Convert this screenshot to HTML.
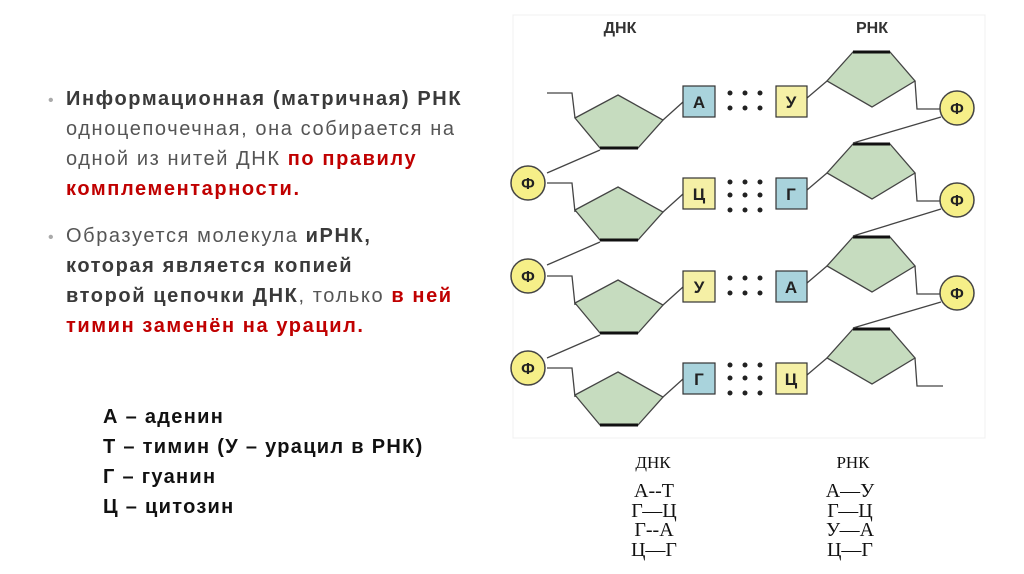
<!DOCTYPE html>
<html><head><meta charset="utf-8"><style>
body{margin:0;width:1024px;height:574px;background:#fff;overflow:hidden;position:relative;font-family:"Liberation Sans",sans-serif}
.l{position:absolute;white-space:nowrap;font-size:20px;letter-spacing:1.6px;color:#555;left:66px}
.b{font-weight:bold;color:#3a3a3a}
.r{font-weight:bold;color:#c00000}
.dot{position:absolute;left:48px;color:#aaa;font-size:16px}
.g{position:absolute;left:103px;font-size:20px;letter-spacing:1.3px;font-weight:bold;color:#111;white-space:nowrap}
</style></head><body>
<div class="dot" style="top:92px">•</div>
<div class="l b" style="top:88px">Информационная (матричная) РНК</div>
<div class="l" style="top:118px">одноцепочечная, она собирается на</div>
<div class="l" style="top:148px">одной из нитей ДНК <span class="r">по правилу</span></div>
<div class="l r" style="top:178px">комплементарности.</div>
<div class="dot" style="top:229px">•</div>
<div class="l" style="top:225px">Образуется молекула <span class="b">иРНК,</span></div>
<div class="l b" style="top:255px">которая является копией</div>
<div class="l" style="top:285px"><span class="b">второй цепочки ДНК</span>, только <span class="r">в ней</span></div>
<div class="l r" style="top:315px">тимин заменён на урацил.</div>
<div class="g" style="top:406px">А – аденин</div>
<div class="g" style="top:436px">Т – тимин (У – урацил в РНК)</div>
<div class="g" style="top:466px">Г – гуанин</div>
<div class="g" style="top:496px">Ц – цитозин</div>
<svg style="position:absolute;left:0;top:0" width="1024" height="574" font-family="Liberation Sans" font-weight="bold">
<rect x="513" y="15" width="472" height="423" fill="none" stroke="#f0f0f0"/>
<text x="620" y="33" font-size="16" text-anchor="middle" fill="#333">ДНК</text>
<text x="872" y="33" font-size="16" text-anchor="middle" fill="#333">РНК</text>
<defs>
<g id="dp"><polygon points="618,95 663,120 638,148 600,148 575,118" fill="#c6dcbf" stroke="#444" stroke-width="1.3"/><line x1="600" y1="148" x2="638" y2="148" stroke="#111" stroke-width="3"/><line x1="663" y1="120" x2="683" y2="102" stroke="#444" stroke-width="1.3"/></g>
<g id="rp"><polygon points="853,52 890,52 915,81 872,107 827,81" fill="#c6dcbf" stroke="#444" stroke-width="1.3"/><line x1="853" y1="52" x2="890" y2="52" stroke="#111" stroke-width="3"/><line x1="807" y1="98" x2="827" y2="81" stroke="#444" stroke-width="1.3"/><polyline points="915,81 917,109 940,109" fill="none" stroke="#444" stroke-width="1.3"/></g>
<g id="fi"><circle r="17" fill="#f6ef88" stroke="#444" stroke-width="1.5"/><text y="6" font-size="16" text-anchor="middle" fill="#222">Ф</text></g>
</defs>
<polyline points="547,93 572,93 575,118" fill="none" stroke="#444" stroke-width="1.3"/>
<use href="#dp"/><use href="#dp" y="92"/><use href="#dp" y="185"/><use href="#dp" y="277"/>
<use href="#rp"/><use href="#rp" y="92"/><use href="#rp" y="185"/>
<g transform="translate(0,277)"><polygon points="853,52 890,52 915,81 872,107 827,81" fill="#c6dcbf" stroke="#444" stroke-width="1.3"/><line x1="853" y1="52" x2="890" y2="52" stroke="#111" stroke-width="3"/><line x1="807" y1="98" x2="827" y2="81" stroke="#444" stroke-width="1.3"/><polyline points="915,81 917,109 943,109" fill="none" stroke="#444" stroke-width="1.3"/></g>
<g stroke="#444" stroke-width="1.3" fill="none">
<line x1="547" y1="173" x2="600" y2="150"/><polyline points="547,183 572,183 575,212"/>
<line x1="547" y1="265" x2="600" y2="242"/><polyline points="547,276 572,276 575,305"/>
<line x1="547" y1="358" x2="600" y2="335"/><polyline points="547,368 572,368 575,397"/>
<line x1="941" y1="117" x2="853" y2="143"/><line x1="941" y1="209" x2="853" y2="236"/><line x1="941" y1="302" x2="853" y2="328"/>
</g>
<use href="#fi" x="528" y="183"/><use href="#fi" x="528" y="276"/><use href="#fi" x="528" y="368"/>
<use href="#fi" x="957" y="108"/><use href="#fi" x="957" y="200"/><use href="#fi" x="957" y="293"/>
<g stroke="#333" stroke-width="1.2" font-size="17">
<rect x="683" y="86" width="32" height="31" fill="#a9d3dc"/><rect x="776" y="86" width="31" height="31" fill="#f5f0a6"/>
<rect x="683" y="178" width="32" height="31" fill="#f5f0a6"/><rect x="776" y="178" width="31" height="31" fill="#a9d3dc"/>
<rect x="683" y="271" width="32" height="31" fill="#f5f0a6"/><rect x="776" y="271" width="31" height="31" fill="#a9d3dc"/>
<rect x="683" y="363" width="32" height="31" fill="#a9d3dc"/><rect x="776" y="363" width="31" height="31" fill="#f5f0a6"/>
</g>
<g font-size="17" text-anchor="middle" fill="#222">
<text x="699" y="108">А</text><text x="791" y="108">У</text>
<text x="699" y="200">Ц</text><text x="791" y="200">Г</text>
<text x="699" y="293">У</text><text x="791" y="293">А</text>
<text x="699" y="385">Г</text><text x="791" y="385">Ц</text>
</g>
<g fill="#222">
<circle cx="730" cy="93" r="2.5"/><circle cx="745" cy="93" r="2.5"/><circle cx="760" cy="93" r="2.5"/>
<circle cx="730" cy="108" r="2.5"/><circle cx="745" cy="108" r="2.5"/><circle cx="760" cy="108" r="2.5"/>
<circle cx="730" cy="182" r="2.5"/><circle cx="745" cy="182" r="2.5"/><circle cx="760" cy="182" r="2.5"/>
<circle cx="730" cy="195" r="2.5"/><circle cx="745" cy="195" r="2.5"/><circle cx="760" cy="195" r="2.5"/>
<circle cx="730" cy="210" r="2.5"/><circle cx="745" cy="210" r="2.5"/><circle cx="760" cy="210" r="2.5"/>
<circle cx="730" cy="278" r="2.5"/><circle cx="745" cy="278" r="2.5"/><circle cx="760" cy="278" r="2.5"/>
<circle cx="730" cy="293" r="2.5"/><circle cx="745" cy="293" r="2.5"/><circle cx="760" cy="293" r="2.5"/>
<circle cx="730" cy="365" r="2.5"/><circle cx="745" cy="365" r="2.5"/><circle cx="760" cy="365" r="2.5"/>
<circle cx="730" cy="378" r="2.5"/><circle cx="745" cy="378" r="2.5"/><circle cx="760" cy="378" r="2.5"/>
<circle cx="730" cy="393" r="2.5"/><circle cx="745" cy="393" r="2.5"/><circle cx="760" cy="393" r="2.5"/>
</g>
<g font-family="Liberation Serif" font-weight="normal" fill="#111" font-size="20" text-anchor="middle">
<text x="653" y="468" font-size="17">ДНК</text>
<text x="853" y="468" font-size="17">РНК</text>
<text x="654" y="497">А--Т</text><text x="654" y="517">Г—Ц</text><text x="654" y="536">Г--А</text><text x="654" y="556">Ц—Г</text>
<text x="850" y="497">А—У</text><text x="850" y="517">Г—Ц</text><text x="850" y="536">У—А</text><text x="850" y="556">Ц—Г</text>
</g>
</svg>
</body></html>
